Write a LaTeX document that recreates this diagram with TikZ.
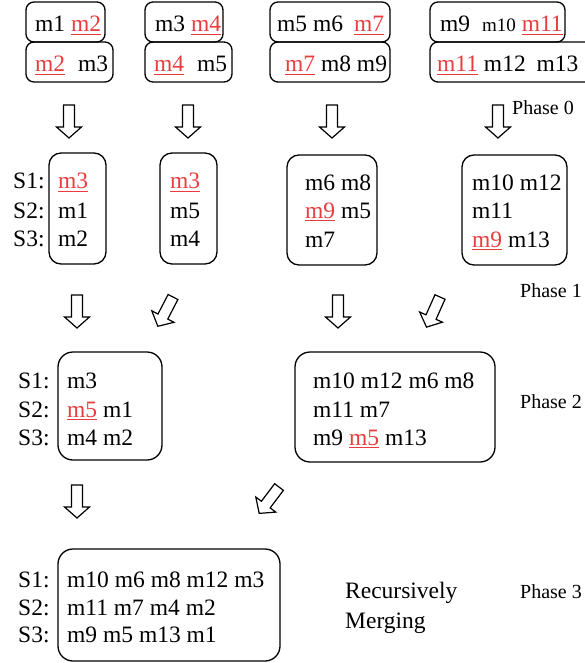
\documentclass[tikz,border=0pt]{standalone}
\usepackage{fontspec}
\setmainfont{Liberation Serif}
\newfontfamily\diagserif{Liberation Serif}
\usetikzlibrary{fit}
\definecolor{hlred}{RGB}{232,60,62}
% red, underlined item
\newcommand\hl[1]{{\color{hlred}\setbox0=\hbox{#1}\rlap{\rule[-3pt]{\wd0}{0.9pt}}\box0}}
\tikzset{
  box/.style={draw, line width=1.3pt, inner sep=0pt, rounded corners=#1},
  box/.default=8pt,
  txt/.style={inner sep=0pt, anchor=base west, font=\diagserif\fontsize{23.5pt}{28pt}\selectfont},
  phase/.style={inner sep=0pt, anchor=base west, font=\diagserif\fontsize{20pt}{24pt}\selectfont},
  arrowline/.style={draw, line width=1.2pt, line join=miter, fill=white},
  pics/blockarrow/.style={code={
    \path[arrowline] (0,-5.5) -- (22,-5.5) -- (22,-12.5) -- (33,0)
      -- (22,12.5) -- (22,5.5) -- (0,5.5) -- cycle;}}
}
\begin{document}
\begin{tikzpicture}[x=1pt,y=-1pt]
\useasboundingbox (0,0) rectangle (584,663);

% ---- input blocks
\node[box, fit={(26,2) (105,42)}] (a1) {};
\node[box, fit={(26,42) (113,82)}] (a2) {};
\node[box, fit={(145,2) (223,42)}] (b1) {};
\node[box, fit={(145,42) (232,82)}] (b2) {};
\node[box, fit={(270,2) (390,42)}] (c1) {};
\node[box, fit={(270,42) (390,82)}] (c2) {};
\node[box, fit={(430,2) (565,42)}] (d1) {};
\node[box, fit={(430,42) (600,82)}] (d2) {};

\node[txt] (ta1) at (35,32) {m1 \hl{m2}};
\node[txt] (ta2) at (35,72) {\hl{m2}\hspace{7pt} m3};
\node[txt] (tb1) at (155,32) {m3 \hl{m4}};
\node[txt] (tb2) at (154,72) {\hl{m4}\hspace{7pt} m5};
\node[txt] (tc1) at (277,32) {m5 m6\hspace{5pt} \hl{m7}};
\node[txt] (tc2) at (285,72) {\hl{m7} m8 m9};
\node[txt] (td1) at (440,32) {m9\hspace{6pt} {\fontsize{19pt}{24pt}\selectfont m10} \hl{m11}};
\node[txt] (td2) at (437,72) {\hl{m11} m12\hspace{5pt} m13};

\node[phase] (p0) at (512,115) {Phase 0};

% ---- phase 0 arrows
\pic[rotate=-90] at (69,105) {blockarrow};
\pic[rotate=-90] at (188,105) {blockarrow};
\pic[rotate=-90] at (332,105) {blockarrow};
\pic[rotate=-90] at (498,105) {blockarrow};

% ---- phase 1 blocks
\node[box=12pt, fit={(49,153) (106,264)}] (e) {};
\node[box=12pt, fit={(160,153) (217,264)}] (f) {};
\node[box=12pt, fit={(287,155) (377,265)}] (g) {};
\node[box=12pt, fit={(462,155) (567,265)}] (h) {};

\node[txt] (s11) at (13,189) {S1:};
\node[txt] (s12) at (13,218) {S2:};
\node[txt] (s13) at (13,246) {S3:};

\node[txt] (e1) at (58,189) {\hl{m3}};
\node[txt] (e2) at (58,218) {m1};
\node[txt] (e3) at (58,246) {m2};

\node[txt] (f1) at (170,189) {\hl{m3}};
\node[txt] (f2) at (170,218) {m5};
\node[txt] (f3) at (170,246) {m4};

\node[txt] (g1) at (305,190) {m6 m8};
\node[txt] (g2) at (305,218) {\hl{m9} m5};
\node[txt] (g3) at (305,247) {m7};

\node[txt] (h1) at (472,190) {m10 m12};
\node[txt] (h2) at (472,218) {m11};
\node[txt] (h3) at (472,247) {\hl{m9} m13};

\node[phase] (p1) at (520,297) {Phase 1};

% ---- phase 1 arrows
\pic[rotate=-90] at (77,295) {blockarrow};
\pic[rotate=-117.4] at (173,297) {blockarrow};
\pic[rotate=-90] at (338,295) {blockarrow};
\pic[rotate=-114.1] at (440,297) {blockarrow};

% ---- phase 2 blocks
\node[box=15pt, fit={(58,352) (162,460)}] (i) {};
\node[box=15pt, fit={(295,352) (495,462)}] (j) {};

\node[txt] (s21) at (18,388) {S1:};
\node[txt] (s22) at (18,417) {S2:};
\node[txt] (s23) at (18,445) {S3:};

\node[txt] (i1) at (67,388) {m3};
\node[txt] (i2) at (67,417) {\hl{m5} m1};
\node[txt] (i3) at (67,445) {m4 m2};

\node[txt] (j1) at (313,388) {m10 m12 m6 m8};
\node[txt] (j2) at (313,417) {m11 m7};
\node[txt] (j3) at (313,445) {m9 \hl{m5} m13};

\node[phase] (p2) at (520,408) {Phase 2};

% ---- phase 2 arrows
\pic[rotate=-90] at (77,485) {blockarrow};
\pic[rotate=-126.9] at (279,487) {blockarrow};

% ---- phase 3 block
\node[box=15pt, fit={(58,549) (280,661)}] (k) {};

\node[txt] (s31) at (18,587) {S1:};
\node[txt] (s32) at (18,615) {S2:};
\node[txt] (s33) at (18,642) {S3:};

\node[txt] (k1) at (67,587) {m10 m6 m8 m12 m3};
\node[txt] (k2) at (67,615) {m11 m7 m4 m2};
\node[txt] (k3) at (67,642) {m9 m5 m13 m1};

\node[txt] (rm1) at (345,598) {Recursively};
\node[txt] (rm2) at (345,628) {Merging};

\node[phase] (p3) at (520,598) {Phase 3};
\end{tikzpicture}
\end{document}
